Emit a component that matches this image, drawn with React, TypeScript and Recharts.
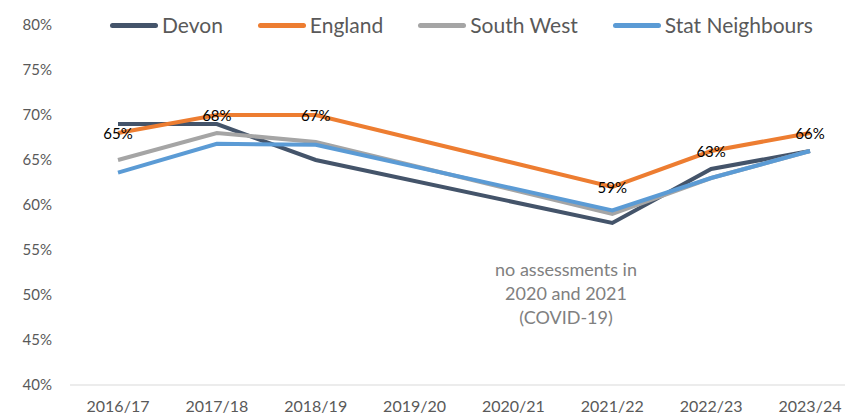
import { LineChart, Line, XAxis, YAxis, LabelList } from "recharts";

const years = ["2016/17", "2017/18", "2018/19", "2019/20", "2020/21", "2021/22", "2022/23", "2023/24"];
const devon = [69, 69, 65, null, null, 58, 64, 66];
const england = [68, 70, 70, null, null, 62, 66, 68];
const southWest = [65, 68, 67, null, null, 59, 63, 66];
const statNeighbours = [63.6, 66.8, 66.7, null, null, 59.4, 63, 66];
const labels = ["65%", "68%", "67%", "", "", "59%", "63%", "66%"];
const yTicks = [40, 45, 50, 55, 60, 65, 70, 75, 80];

const series = [
  { key: "devon", name: "Devon", color: "#44546A" },
  { key: "england", name: "England", color: "#ED7D31" },
  { key: "southWest", name: "South West", color: "#A5A5A5" },
  { key: "statNeighbours", name: "Stat Neighbours", color: "#5B9BD5" },
];

const data = years.map((year, i) => ({
  year,
  devon: devon[i],
  england: england[i],
  southWest: southWest[i],
  statNeighbours: statNeighbours[i],
  label: labels[i],
}));

const font = "Lato, 'Open Sans', sans-serif";

const DataLabel = (props: any) => {
  const { x, y, value } = props;
  if (!value) return null;
  return (
    <text x={x} y={y} textAnchor="middle" dominantBaseline="central" fontSize={15} fill="#000" fontFamily={font}>
      {value}
    </text>
  );
};

export default function App() {
  return (
    <div style={{ position: "absolute", left: 0, top: 0, width: 845, height: 417, background: "#fff", fontFamily: font }}>
      <div style={{ position: "absolute", top: 11, left: 110, display: "flex", zIndex: 2 }}>
        {series.map((s, i) => (
          <div key={s.key} style={{ display: "flex", alignItems: "center", marginRight: i < 3 ? 35 : 0 }}>
            <span style={{ display: "inline-block", width: 48, height: 5, borderRadius: 3, background: s.color, marginRight: 4 }} />
            <span style={{ fontSize: 21, color: "#595959", lineHeight: "28px" }}>{s.name}</span>
          </div>
        ))}
      </div>
      <LineChart width={845} height={417} data={data} margin={{ top: 25, right: 0, bottom: 2, left: 0 }}>
        <XAxis
          dataKey="year"
          axisLine={{ stroke: "#D9D9D9" }}
          tickLine={false}
          height={30}
          tickMargin={10}
          padding={{ left: 48, right: 35 }}
          tick={{ fontSize: 16, fill: "#595959", fontFamily: font }}
        />
        <YAxis
          domain={[40, 80]}
          ticks={yTicks}
          tickFormatter={(v) => `${v}%`}
          axisLine={false}
          tickLine={false}
          width={70}
          tickMargin={12}
          tick={{ fontSize: 15, fill: "#595959", fontFamily: font }}
        />
        {series.map((s) => (
          <Line
            key={s.key}
            dataKey={s.key}
            name={s.name}
            stroke={s.color}
            strokeWidth={4}
            dot={false}
            activeDot={false}
            connectNulls
            type="linear"
            isAnimationActive={false}
          >
            {s.key === "england" && <LabelList dataKey="label" content={<DataLabel />} />}
          </Line>
        ))}
      </LineChart>
      <div
        style={{
          position: "absolute",
          left: 466,
          top: 257,
          width: 200,
          textAlign: "center",
          fontSize: 18,
          lineHeight: "24px",
          color: "#808080",
        }}
      >
        no assessments in
        <br />
        2020 and 2021
        <br />
        (COVID-19)
      </div>
    </div>
  );
}
